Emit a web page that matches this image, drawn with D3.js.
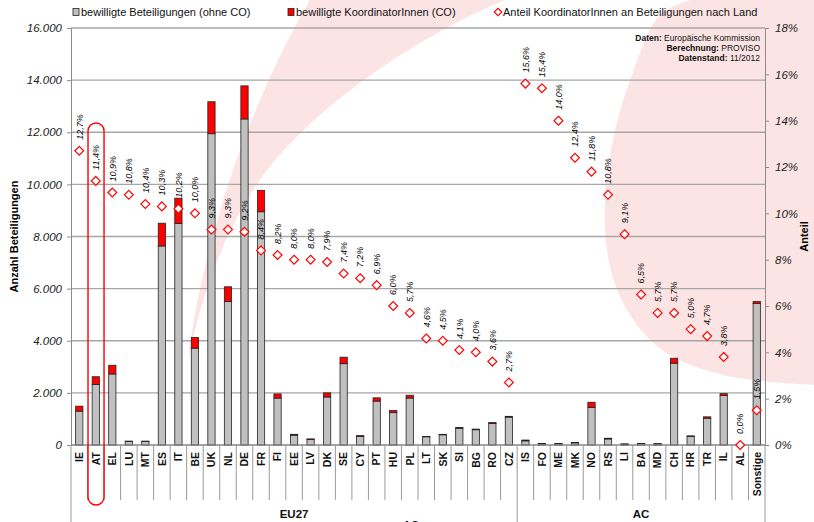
<!DOCTYPE html>
<html>
<head>
<meta charset="utf-8">
<script src="https://cdn.jsdelivr.net/npm/d3@7"></script>
<style>
  body { margin: 0; background: #fff; }
  svg { display: block; font-family: "Liberation Sans", Arial, sans-serif; }
</style>
</head>
<body>
<script>
//SVG dimension variables
var w = 814, h = 522;

//categories (countries) and their groups
var countries = ["IE","AT","EL","LU","MT","ES","IT","BE","UK","NL","DE","FR","FI","EE","LV","DK","SE","CY","PT","HU","PL","LT","SK","SI","BG","RO","CZ",
    "IS","FO","ME","MK","NO","RS","LI","BA","MD","CH","HR","TR","IL","AL","Sonstige"];
var groupNames = ["EU27", "AC"];
var groupStart = ["IE", "IS"];
var groupEnd = ["CZ", "Sonstige"];

//bewilligte Beteiligungen (ohne CO)
var ohneCO = [1300,2320,2725,134,134,7635,8505,3715,11945,5505,12510,8950,1800,377,216,1842,3120,334,1685,1241,1801,315,392,643,586,829,1070,
    160,51,52,83,1446,232,36,56,47,3140,332,1029,1895,8,5427];
//bewilligte KoordinatorInnen (CO)
var koordCO = [190,300,335,16,16,875,965,415,1225,565,1270,820,160,33,19,158,250,26,125,79,109,15,18,27,24,31,30,
    30,9,8,12,194,28,4,4,3,190,18,51,75,0,83];
//Anteil KoordinatorInnen an Beteiligungen nach Land (%)
var anteil = [12.7,11.4,10.9,10.8,10.4,10.3,10.2,10.0,9.3,9.3,9.2,8.4,8.2,8.0,8.0,7.9,7.4,7.2,6.9,6.0,5.7,4.6,4.5,4.1,4.0,3.6,2.7,
    15.6,15.4,14.0,12.4,11.8,10.8,9.1,6.5,5.7,5.7,5.0,4.7,3.8,0.0,1.5];

//axis ticks
var leftTicks = [0,2000,4000,6000,8000,10000,12000,14000,16000];
var rightTicks = [0,2,4,6,8,10,12,14,16,18];

//legend and notes
var legendLabels = ["bewilligte Beteiligungen (ohne CO)", "bewilligte KoordinatorInnen (CO)", "Anteil KoordinatorInnen an Beteiligungen nach Land"];
var sourceLines = [["Daten: ", "Europäische Kommission"], ["Berechnung: ", "PROVISO"], ["Datenstand: ", "11/2012"]];

var rows = countries.map(function(c, i){
    return {land: c, ohne: ohneCO[i], co: koordCO[i], pct: anteil[i]};
});

var de = d3.formatLocale({decimal: ",", thousands: ".", grouping: [3], currency: ["", "€"]});
var fmtNum = de.format(",");
var fmtPct = de.format(".1f");

//plot area edges (window.top is read-only, so no "top" here)
var pLeft = 71, pRight = 765, pTop = 28, pBottom = 445;

var container = d3.select("body")
    .append("svg")
    .attr("width", w)
    .attr("height", h);

//pale pink background shapes
var pink = "#fce4e4";
container.append("path")
    .attr("d", "M188,360 C200,260 240,120 310,0 L505,0 C410,40 310,110 260,180 C225,230 203,290 188,360 Z")
    .style("fill", pink);
container.append("path")
    .attr("d", d3.line().curve(d3.curveCatmullRom)([[690,0],[660,15],[632,75],[614,135],[605,202],[609,262],[627,310],[662,350],[723,375],[814,385]]) + "L814,0Z")
    .style("fill", pink);

//scales
var x = d3.scaleBand()
    .domain(countries)
    .range([pLeft, pRight])
    .paddingInner(0.56)
    .paddingOuter(0.28);

var xs = d3.scaleBand() //slots without padding, for separators
    .domain(countries)
    .range([pLeft, pRight]);

var y = d3.scaleLinear()
    .range([pBottom, pTop])
    .domain([0, 16000]);

var y2 = d3.scaleLinear()
    .range([pBottom, pTop])
    .domain([0, 18]);

//gridlines
container.selectAll(".grid")
    .data(leftTicks)
    .enter()
    .append("line")
    .attr("class", "grid")
    .attr("x1", pLeft)
    .attr("x2", pRight)
    .attr("y1", function(d){ return y(d); })
    .attr("y2", function(d){ return y(d); })
    .style("stroke", "#a6a6a6")
    .style("stroke-width", 1.3);

//stacked bars
var bars = container.selectAll(".bar")
    .data(rows)
    .enter()
    .append("g")
    .attr("class", "bar");

bars.append("rect")
    .attr("x", function(d){ return x(d.land); })
    .attr("width", x.bandwidth())
    .attr("y", function(d){ return y(d.ohne); })
    .attr("height", function(d){ return y(0) - y(d.ohne); })
    .style("fill", "#c0c0c0")
    .style("stroke", "#222")
    .style("stroke-width", 0.8);

bars.filter(function(d){ return d.co > 0; })
    .append("rect")
    .attr("x", function(d){ return x(d.land); })
    .attr("width", x.bandwidth())
    .attr("y", function(d){ return y(d.ohne + d.co); })
    .attr("height", function(d){ return y(d.ohne) - y(d.ohne + d.co); })
    .style("fill", "#ff0000")
    .style("stroke", "#222")
    .style("stroke-width", 0.8);

//left axis
var yAxis = d3.axisLeft(y)
    .tickValues(leftTicks)
    .tickSize(4)
    .tickFormat(function(d){ return fmtNum(d); });

var axL = container.append("g")
    .attr("class", "axis")
    .attr("transform", "translate(" + pLeft + ",0)")
    .call(yAxis);

//right axis
var y2Axis = d3.axisRight(y2)
    .tickValues(rightTicks)
    .tickSize(4)
    .tickFormat(function(d){ return d + "%"; });

var axR = container.append("g")
    .attr("class", "axis")
    .attr("transform", "translate(" + pRight + ",0)")
    .call(y2Axis);

container.selectAll(".axis path, .axis line")
    .style("stroke", "#8c8c8c");
container.selectAll(".axis text")
    .style("font-size", "11.5px")
    .style("font-style", "italic")
    .style("fill", "#222");
axL.selectAll("text").attr("x", -9);
axR.selectAll("text").attr("x", 10);

//x axis baseline
container.append("line")
    .attr("x1", pLeft).attr("x2", pRight)
    .attr("y1", pBottom).attr("y2", pBottom)
    .style("stroke", "#8c8c8c");

//category separators under the axis
container.selectAll(".sep")
    .data(countries.slice(1))
    .enter()
    .append("line")
    .attr("class", "sep")
    .attr("x1", function(d){ return xs(d); })
    .attr("x2", function(d){ return xs(d); })
    .attr("y1", pBottom)
    .attr("y2", function(d){ return d === "IS" ? h : 500; })
    .style("stroke", "#9a9a9a");

container.selectAll(".gsep")
    .data([pLeft, pRight])
    .enter()
    .append("line")
    .attr("x1", function(d){ return d; })
    .attr("x2", function(d){ return d; })
    .attr("y1", pBottom)
    .attr("y2", h)
    .style("stroke", "#9a9a9a");

//category labels
container.selectAll(".cat")
    .data(countries)
    .enter()
    .append("text")
    .attr("class", "cat")
    .attr("transform", function(d){
        return "translate(" + (x(d) + x.bandwidth() / 2) + "," + (pBottom + 7) + ") rotate(-90)";
    })
    .attr("dy", "0.36em")
    .attr("text-anchor", "end")
    .style("font-size", "10.5px")
    .style("font-weight", "bold")
    .style("fill", "#111")
    .text(function(d){ return d; });

//group labels
container.selectAll(".group")
    .data(groupNames)
    .enter()
    .append("text")
    .attr("class", "group")
    .attr("x", function(d, i){
        return (xs(groupStart[i]) + xs(groupEnd[i]) + xs.bandwidth()) / 2;
    })
    .attr("y", 518)
    .attr("text-anchor", "middle")
    .style("font-size", "11.5px")
    .style("font-weight", "bold")
    .style("fill", "#111")
    .text(function(d){ return d; });

//stray group label peeking at the bottom edge
container.append("text")
    .attr("x", 411)
    .attr("y", 529)
    .attr("text-anchor", "middle")
    .style("font-size", "11px")
    .style("font-weight", "bold")
    .style("fill", "#111")
    .text("AC");

//percentage markers
container.selectAll(".pt")
    .data(rows)
    .enter()
    .append("path")
    .attr("class", "pt")
    .attr("d", d3.symbol().type(d3.symbolDiamond2).size(50))
    .attr("transform", function(d){
        return "translate(" + (x(d.land) + x.bandwidth() / 2) + "," + y2(d.pct) + ")";
    })
    .style("fill", "#fff")
    .style("stroke", "#ff0000")
    .style("stroke-width", 1.2);

//percentage labels
container.selectAll(".pl")
    .data(rows)
    .enter()
    .append("text")
    .attr("class", "pl")
    .attr("transform", function(d){
        return "translate(" + (x(d.land) + x.bandwidth() / 2) + "," + (y2(d.pct) - 11) + ") rotate(-90)";
    })
    .attr("dy", "0.36em")
    .style("font-size", "9px")
    .style("font-style", "italic")
    .style("fill", "#000")
    .text(function(d){ return fmtPct(d.pct) + "%"; });

//axis titles
container.append("text")
    .attr("transform", "translate(18," + ((pTop + pBottom) / 2) + ") rotate(-90)")
    .attr("text-anchor", "middle")
    .style("font-size", "11px")
    .style("font-weight", "bold")
    .text("Anzahl Beteiligungen");

container.append("text")
    .attr("transform", "translate(808," + ((pTop + pBottom) / 2) + ") rotate(-90)")
    .attr("text-anchor", "middle")
    .style("font-size", "11px")
    .style("font-weight", "bold")
    .text("Anteil");

//highlight around AT
container.append("rect")
    .attr("x", xs("AT") + 0.5)
    .attr("y", 123)
    .attr("width", xs.bandwidth() - 0.5)
    .attr("height", 382)
    .attr("rx", 8)
    .style("fill", "none")
    .style("stroke", "#ff0000")
    .style("stroke-width", 1.4);

//legend
var legX = [73, 288, 498];
var legend = container.selectAll(".legend")
    .data(legendLabels)
    .enter()
    .append("g")
    .attr("class", "legend")
    .attr("transform", function(d, i){ return "translate(" + legX[i] + ",12)"; });

legend.filter(function(d, i){ return i < 2; })
    .append("rect")
    .attr("x", 0)
    .attr("y", -3.5)
    .attr("width", 6)
    .attr("height", 7)
    .style("fill", function(d, i){ return i === 0 ? "#c0c0c0" : "#ff0000"; })
    .style("stroke", "#222")
    .style("stroke-width", 0.8);

legend.filter(function(d, i){ return i === 2; })
    .append("path")
    .attr("d", d3.symbol().type(d3.symbolDiamond2).size(36))
    .style("fill", "#fff")
    .style("stroke", "#ff0000")
    .style("stroke-width", 1.1);

legend.append("text")
    .attr("x", function(d, i){ return i === 2 ? 5 : 8; })
    .attr("dy", "0.35em")
    .style("font-size", "11px")
    .style("fill", "#111")
    .text(function(d){ return d; });

//source note
var note = container.selectAll(".note")
    .data(sourceLines)
    .enter()
    .append("text")
    .attr("class", "note")
    .attr("x", 760)
    .attr("y", function(d, i){ return 41 + i * 10; })
    .attr("text-anchor", "end")
    .style("font-size", "8.5px")
    .style("fill", "#111");

note.append("tspan")
    .style("font-weight", "bold")
    .text(function(d){ return d[0]; });
note.append("tspan")
    .text(function(d){ return d[1]; });
</script>
</body>
</html>
